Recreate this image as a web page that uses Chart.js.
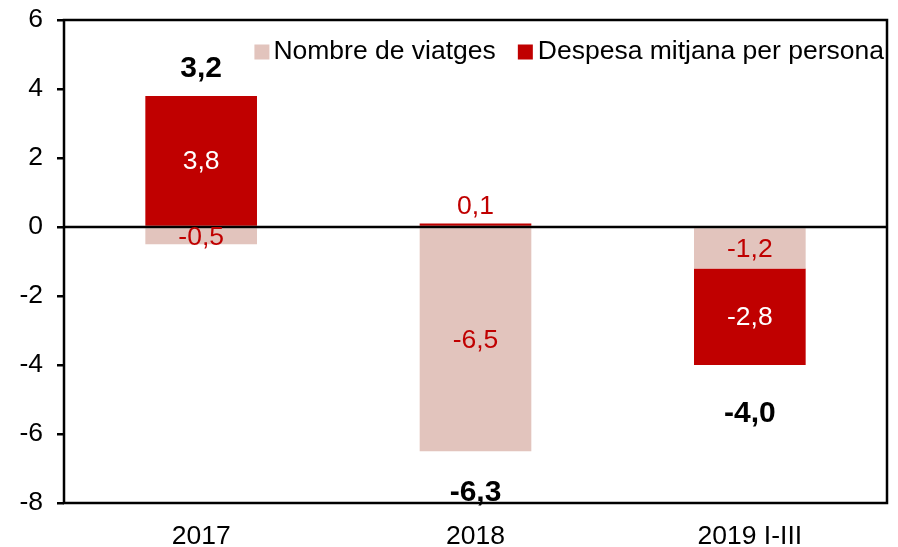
<!doctype html>
<html lang="ca">
<head>
<meta charset="UTF-8" />
<title>Nombre de viatges i despesa mitjana</title>
<script src="https://cdn.jsdelivr.net/npm/chart.js"></script>
<style>
  html, body { margin: 0; padding: 0; background: #fff; }
  #wrap { width: 898px; height: 547px; position: relative; }
</style>
</head>
<body>
<div id="wrap"><canvas id="chart"></canvas></div>
<script>
const categories = ['2017', '2018', '2019 I-III']
const viatges = [-0.5, -6.5, -1.2]
const despesa = [3.8, 0.1, -2.8]
const totals = [3.2, -6.3, -4.0]
const seriesNames = ['Nombre de viatges', 'Despesa mitjana per persona']
const yTicks = [-8, -6, -4, -2, 0, 2, 4, 6]

const FONT = 'Arial, "Liberation Sans", sans-serif'
const PINK = '#E2C4BD'
const RED = '#C00000'

function fmt(v) {
  return v.toFixed(1).replace('.', ',')
}

function noPad(s) {
  s.paddingTop = 0
  s.paddingBottom = 0
  s.paddingLeft = 0
  s.paddingRight = 0
}

// marc, línia del zero, etiquetes i llegenda
const decor = {
  id: 'decor',
  afterDatasetsDraw(chart) {
    const { ctx, chartArea: a, scales } = chart
    const y = scales.y
    ctx.save()
    ctx.strokeStyle = '#000'
    ctx.lineWidth = 2.5
    ctx.beginPath()
    ctx.moveTo(a.left, y.getPixelForValue(0))
    ctx.lineTo(a.right, y.getPixelForValue(0))
    ctx.stroke()
    ctx.strokeRect(a.left, a.top, a.right - a.left, a.bottom - a.top)

    // valors de cada barra
    ctx.textAlign = 'center'
    ctx.textBaseline = 'middle'
    ctx.font = '26.5px ' + FONT
    chart.data.datasets.forEach((ds, di) => {
      chart.getDatasetMeta(di).data.forEach((el, i) => {
        const v = ds.data[i]
        const h = Math.abs(el.base - el.y)
        if (di === 0) {
          ctx.fillStyle = RED
          ctx.fillText(fmt(v), el.x, (el.y + el.base) / 2 + 1)
        } else if (h < 12) {
          ctx.fillStyle = RED
          ctx.fillText(fmt(v), el.x, Math.min(el.y, el.base) - 17)
        } else {
          ctx.fillStyle = '#fff'
          ctx.fillText(fmt(v), el.x, (el.y + el.base) / 2 + 1)
        }
      })
    })

    // totals
    ctx.font = 'bold 30px ' + FONT
    ctx.fillStyle = '#000'
    const meta = chart.getDatasetMeta(0)
    totals.forEach((t, i) => {
      const py = y.getPixelForValue(t + (t > 0 ? 1.4 : -1.4))
      ctx.fillText(fmt(t), meta.data[i].x, py)
    })

    // llegenda
    ctx.font = '26.5px ' + FONT
    ctx.textAlign = 'left'
    const ly = 52
    const w2 = ctx.measureText(seriesNames[1]).width
    const w1 = ctx.measureText(seriesNames[0]).width
    const t2 = a.right - 3 - w2
    const b2 = t2 - 20
    const t1 = b2 - 22 - w1
    const b1 = t1 - 19
    ctx.fillStyle = PINK
    ctx.fillRect(b1, ly - 7.5, 15, 15)
    ctx.fillStyle = RED
    ctx.fillRect(b2, ly - 7.5, 15, 15)
    ctx.fillStyle = '#000'
    ctx.fillText(seriesNames[0], t1, ly)
    ctx.fillText(seriesNames[1], t2, ly)
    ctx.restore()
  }
}

new Chart(document.getElementById('chart'), {
  type: 'bar',
  data: {
    labels: categories,
    datasets: [
      { label: seriesNames[0], data: viatges, backgroundColor: PINK },
      { label: seriesNames[1], data: despesa, backgroundColor: RED }
    ]
  },
  options: {
    responsive: true,
    maintainAspectRatio: false,
    animation: false,
    devicePixelRatio: 1,
    layout: { padding: { top: 20, right: 11, left: 0, bottom: 0 } },
    datasets: { bar: { categoryPercentage: 1, barPercentage: 0.407 } },
    plugins: { legend: { display: false }, tooltip: { enabled: false } },
    scales: {
      x: {
        stacked: true,
        grid: { display: false },
        border: { display: false },
        ticks: { color: '#000', font: { family: FONT, size: 26.5 }, padding: 10 },
        afterFit: (s) => { s.height = 44; noPad(s) }
      },
      y: {
        stacked: true,
        min: -8,
        max: 6,
        afterBuildTicks: (s) => { s.ticks = yTicks.map(v => ({ value: v })) },
        grid: { drawOnChartArea: false, drawTicks: true, tickLength: 7, color: '#000', lineWidth: 2.5 },
        border: { display: false },
        ticks: { color: '#000', font: { family: FONT, size: 26.5 }, padding: 14 },
        afterFit: (s) => { s.width = 64; noPad(s) }
      }
    }
  },
  plugins: [decor]
})
</script>
</body>
</html>
